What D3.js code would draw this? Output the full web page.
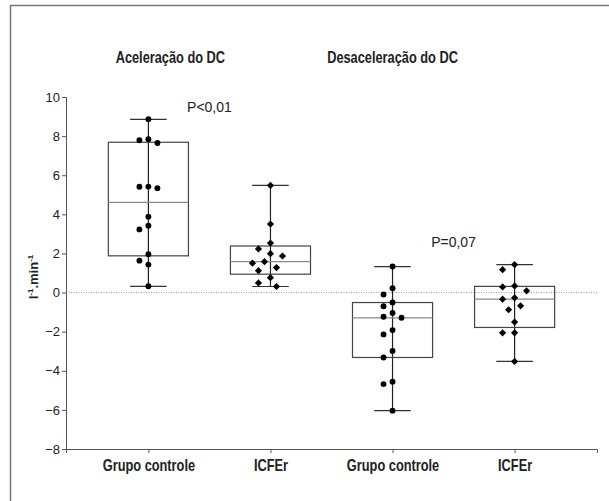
<!DOCTYPE html>
<html>
<head>
<meta charset="utf-8">
<script src="https://cdn.jsdelivr.net/npm/d3@7"></script>
<style>
  html, body { margin: 0; background: #fff; overflow: hidden; }
  svg { display: block; }
  text { font-family: "Liberation Sans", Arial, sans-serif; fill: #222; }
</style>
</head>
<body>
<script>
// Values (l-1.min-1)
var groupLabels = ["Grupo controle", "ICFEr", "Grupo controle", "ICFEr"];
var panelTitles = ["Aceleração do DC", "Desaceleração do DC"];
var pLabels = ["P<0,01", "P=0,07"];
var yTicks = [-8, -6, -4, -2, 0, 2, 4, 6, 8, 10];

var acelControle = [8.86, 7.84, 7.79, 7.65, 5.42, 5.41, 5.34, 3.88, 3.42, 3.23, 1.96, 1.63, 1.43, 0.32];
var acelICFEr = [5.48, 3.50, 2.53, 2.23, 1.99, 1.87, 1.58, 1.50, 1.28, 1.12, 0.76, 0.49, 0.31];
var desacelControle = [1.33, 0.22, -0.10, -0.51, -0.70, -1.04, -1.24, -1.29, -1.92, -2.14, -2.99, -3.32, -4.56, -4.68, -6.04];
var desacelICFEr = [1.43, 1.17, 0.34, 0.29, 0.09, -0.27, -0.34, -0.68, -0.88, -1.51, -2.06, -2.06, -3.52];

var groups = [acelControle, acelICFEr, desacelControle, desacelICFEr];

var width = 609, height = 501;
var narrow = 0.8; // the figure uses a condensed face, squeeze the bold labels

var svg = d3.select("body").append("svg")
    .attr("width", width)
    .attr("height", height);

// outer frame (right and bottom edges fall outside the picture)
svg.append("rect")
    .attr("x", 10.5).attr("y", 5.5)
    .attr("width", 620).attr("height", 520)
    .attr("fill", "none")
    .attr("stroke", "#777")
    .attr("stroke-width", 1.5);

// scales
var x = d3.scaleLinear().domain([-0.675, 3.675]).range([66, 597]);
var y = d3.scaleLinear().domain([-8, 10]).range([449, 97]);
var step = x(1) - x(0);
var boxW = step * 0.656;
var capW = step * 0.3;

// quartiles the way Prism does it, (n+1)p
function quart(arr, p) {
  var s = arr.slice().sort(d3.ascending);
  var pos = (s.length + 1) * p - 1;
  var lo = Math.floor(pos), hi = Math.ceil(pos);
  return s[lo] + (s[hi] - s[lo]) * (pos - lo);
}

// zero reference line
svg.append("line")
    .attr("x1", x(-0.675)).attr("x2", x(3.675))
    .attr("y1", y(0)).attr("y2", y(0))
    .attr("stroke", "#999")
    .attr("stroke-dasharray", "1,1.5");

// y axis
var yAxis = svg.append("g")
    .attr("transform", "translate(" + x(-0.675) + ",0)")
    .call(d3.axisLeft(y).tickValues(yTicks).tickSize(4).tickPadding(2));
yAxis.select(".domain").attr("stroke", "#555");
yAxis.selectAll(".tick line").attr("stroke", "#555");
yAxis.selectAll("text").style("font-size", "13px").attr("fill", "#222");

// x axis
var xAxis = svg.append("g")
    .attr("transform", "translate(0," + y(-8) + ")")
    .call(d3.axisBottom(x).tickValues([0, 1, 2, 3]).tickSize(4).tickPadding(7)
      .tickFormat(function (d) { return groupLabels[d]; }));
xAxis.select(".domain").attr("stroke", "#555");
xAxis.selectAll(".tick line").attr("stroke", "#555");
xAxis.selectAll("text")
    .style("font-size", "16px").style("font-weight", "bold").attr("fill", "#222")
    .attr("transform", "scale(" + narrow + ",1)");

// boxes
groups.forEach(function (vals, i) {
  var q1 = quart(vals, 0.25), med = quart(vals, 0.5), q3 = quart(vals, 0.75);
  var lo = d3.min(vals), hi = d3.max(vals);
  var cx = x(i);
  var g = svg.append("g");

  g.append("line").attr("x1", cx).attr("x2", cx).attr("y1", y(hi)).attr("y2", y(lo))
      .attr("stroke", "#222").attr("stroke-width", 1.2);
  [hi, lo].forEach(function (v) {
    g.append("line").attr("x1", cx - capW / 2).attr("x2", cx + capW / 2)
        .attr("y1", y(v)).attr("y2", y(v))
        .attr("stroke", "#333").attr("stroke-width", 1.2);
  });
  g.append("rect")
      .attr("x", cx - boxW / 2).attr("y", y(q3))
      .attr("width", boxW).attr("height", y(q1) - y(q3))
      .attr("fill", "none").attr("stroke", "#444").attr("stroke-width", 1.2);
  g.append("line").attr("x1", cx - boxW / 2).attr("x2", cx + boxW / 2)
      .attr("y1", y(med)).attr("y2", y(med))
      .attr("stroke", "#8a8a8a").attr("stroke-width", 1.2);

  // simple swarm: put each point in the first free slot around the centre
  var diamond = i % 2 === 1;
  var slot = diamond ? 6 : 9;
  var minDist = diamond ? 9.5 : 8.5;
  var placed = [];
  vals.slice().sort(d3.descending).forEach(function (v) {
    var py = y(v);
    for (var k = 0; k < 9; k++) {
      var off = (k === 0 ? 0 : (k % 2 ? -1 : 1) * Math.ceil(k / 2)) * slot;
      var ok = placed.every(function (p) {
        return Math.hypot(p.x - (cx + off), p.y - py) >= minDist;
      });
      if (ok) { placed.push({ x: cx + off, y: py }); break; }
    }
  });

  g.selectAll("path.pt").data(placed).enter().append("path")
      .attr("class", "pt")
      .attr("transform", function (d) {
        return "translate(" + d.x + "," + d.y + ")" + (diamond ? " rotate(45)" : "");
      })
      .attr("d", d3.symbol().type(diamond ? d3.symbolSquare : d3.symbolCircle).size(diamond ? 26 : 27))
      .attr("fill", "#000");
});

// panel titles
[x(0.18), x(2)].forEach(function (tx, i) {
  svg.append("text")
      .attr("transform", "translate(" + tx + ",63) scale(" + narrow + ",1)")
      .attr("text-anchor", "middle")
      .style("font-size", "16px").style("font-weight", "bold")
      .text(panelTitles[i]);
});

// p values
svg.append("text").attr("x", x(0.5)).attr("y", y(9.25))
    .attr("text-anchor", "middle")
    .style("font-size", "14px").text(pLabels[0]);
svg.append("text").attr("x", x(2.5)).attr("y", y(2.35))
    .attr("text-anchor", "middle")
    .style("font-size", "14px").text(pLabels[1]);

// y label
var yl = svg.append("text")
    .attr("transform", "translate(38,277) rotate(-90)")
    .attr("text-anchor", "middle")
    .style("font-size", "13px").style("font-weight", "bold");
yl.append("tspan").text("l");
yl.append("tspan").attr("dy", -5).style("font-size", "8px").text("-1");
yl.append("tspan").attr("dy", 5).text(".min");
yl.append("tspan").attr("dy", -5).style("font-size", "8px").text("-1");
</script>
</body>
</html>
